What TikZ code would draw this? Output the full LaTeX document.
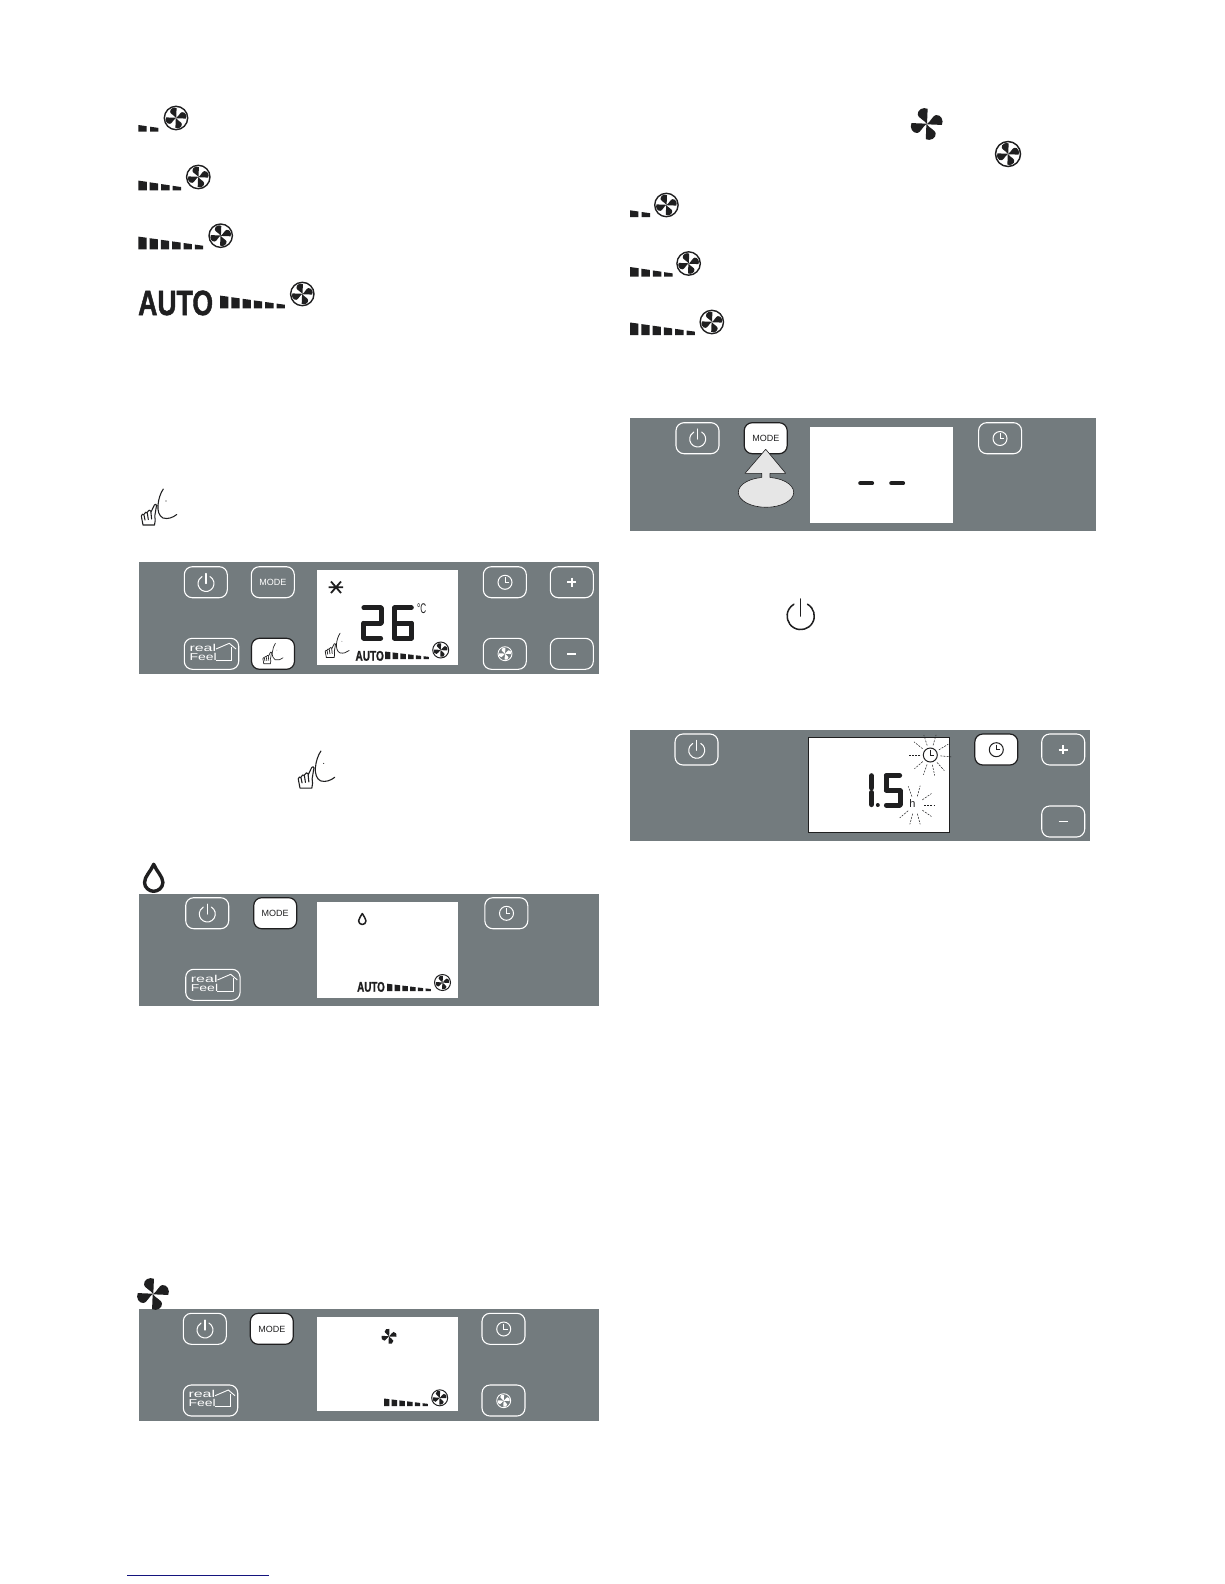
\documentclass[tikz,border=0pt]{standalone}
\usepackage{fontspec}
\setmainfont{Liberation Sans}
\usetikzlibrary{calc}
\definecolor{panelgray}{HTML}{737B7E}
\definecolor{ink}{HTML}{1F1F20}
\definecolor{pressgray}{HTML}{E6E6E6}
\definecolor{rule}{HTML}{14147E}
\tikzset{
  panelbox/.style={fill=panelgray,draw=none},
  lcdbox/.style={fill=white,draw=none},
  btnbox/.style={draw=white,line width=1.1pt,rounded corners=8pt},
  btnon/.style={draw=ink,fill=white,line width=1.2pt,rounded corners=8pt},
  segline/.style={draw=ink,line cap=round},
  ray/.style={draw=ink,line width=0.5pt,dash pattern=on 2pt off 1.2pt},
}
% bars: x, bottom y, count, first height, last height, pitch, width
\newcommand\fanbars[7]{%
  \foreach \i in {1,...,#3}{%
    \pgfmathsetmacro\xa{#1+(\i-1)*#6}%
    \pgfmathsetmacro\xb{\xa+#7}%
    \pgfmathsetmacro\slope{(#5-#4)/(#3-1)}%
    \pgfmathsetmacro\ya{#2-(#4+(\i-1)*\slope)}%
    \pgfmathsetmacro\yb{#2-(#4+(\i-1+0.7)*\slope)}%
    \fill[ink] (\xa,#2) -- (\xa,\ya) -- (\xb,\yb) -- (\xb,#2) -- cycle;}}
% blades: x, y, radius, colour
\newcommand\blades[4]{%
  \begin{scope}[shift={(#1,#2)},scale=#3]
  \foreach \a in {0,90,180,270}{%
    \fill[#4,rotate=\a] (0.02,0) -- (0.06,-0.98)
      .. controls (-0.22,-1.12) and (-0.62,-0.92) .. (-0.58,-0.6)
      .. controls (-0.55,-0.4) and (-0.22,-0.3) .. (0.02,0) -- cycle;}
  \end{scope}}
% round fan: x, y, radius, colour
\newcommand\roundfan[4]{%
  \draw[#4,line width={0.11*#3+0.1}] (#1,#2) circle[radius=#3];
  \blades{#1}{#2}{0.86*#3}{#4}}
\newcommand\powericon[4]{% x,y,r,colour
  \begin{scope}[shift={(#1,#2)}]
  \draw[#4,line width={0.3+0.09*#3},line cap=round] (60:#3 and -#3) arc[start angle=-60,end angle=240,radius=#3];
  \draw[#4,line width={0.3+0.09*#3},line cap=round] (0,0) -- (0,-1.25*#3);
  \end{scope}}
\newcommand\clockicon[4]{% x,y,r,colour
  \draw[#4,line width=1pt] (#1,#2) circle[radius=#3];
  \draw[#4,line width=0.9pt] ($(#1,#2)+(0,-0.72*#3)$) -- (#1,#2) -- ($(#1,#2)+(0.55*#3,0)$);}
\newcommand\btn[3][btnbox]{\draw[#1] (#2,#3) rectangle ++(43,31);}
\newcommand\modetext[3]{\node[text=#3,inner sep=0,font=\fontsize{9}{9}\selectfont] at (#1,#2) {MODE};}
\newcommand\realfeel[2]{%
  \begin{scope}[shift={(#1,#2)}]
  \draw[btnbox] (0,0) rectangle (54.4,31);
  \node[anchor=base west,inner sep=0,text=white,font=\fontsize{10}{10}\selectfont] at (5,12.7) {\scalebox{1.6}[1]{real}};
  \node[anchor=base west,inner sep=0,text=white,font=\fontsize{10}{10}\selectfont] at (5,21.9) {\scalebox{1.4}[1]{Feel}};
  \draw[white,line width=0.9pt] (31.7,10.7) -- (45,5) -- (51.7,10.7);
  \draw[white,line width=0.9pt] (47.3,9) -- (47.3,21.7) -- (31.7,21.7);
  \end{scope}}
\newcommand\autotext[5]{\node[anchor=base west,inner sep=0,text=#5,font=\fontsize{#3}{#3}\bfseries\selectfont\addfontfeature{FakeBold=1.6}] at (#1,#2) {\scalebox{#4}[1]{AUTO}};}
\newcommand\handicon[4]{% x,y,scale,colour
  \begin{scope}[shift={(#1,#2)},scale=#3]
  \draw[#4,line width={0.95*#3+0.1},line cap=round,line join=round]
    (33.3,14) .. controls (30.5,18) and (28.5,24) .. (28,30)
    .. controls (27.5,36) and (29,41) .. (33,43)
    .. controls (38,44.5) and (43,42.5) .. (46.7,39.5)
    (13,50) -- (11.3,41) .. controls (11.3,39) and (13.5,38.5) .. (14,40) -- (15,45)
    (14.2,39) .. controls (14.5,37) and (17,36.5) .. (17.3,38) -- (18.3,44.5)
    (17.5,37) .. controls (18,35) and (20.5,34.5) .. (20.8,36) -- (21.6,44)
    (21,37) -- (24.4,30) .. controls (25,28.8) and (26.8,29) .. (26.5,30.5)
    -- (24.8,41) .. controls (24.8,44) and (26,47) .. (24.5,50) -- (13,50);
  \fill[#4] (36,26) circle[radius=0.55];
  \end{scope}}
\newcommand\dropicon[4]{% x,y,s,line width
  \begin{scope}[shift={(#1,#2)},scale=#3]
  \draw[ink,line width=#4,line join=round] (0,-1) .. controls (0.2,-0.5) and (0.68,-0.1) .. (0.68,0.35)
   .. controls (0.68,0.75) and (0.3,1) .. (0,1) .. controls (-0.3,1) and (-0.68,0.75) .. (-0.68,0.35)
   .. controls (-0.68,-0.1) and (-0.2,-0.5) .. (0,-1) -- cycle;
  \end{scope}}
% seven segment digit: x,y (top left), w, h, t, segment list
\newcommand\segdigit[6]{%
  \coordinate (tl) at (#1,#2); \coordinate (tr) at ($(#1,#2)+(#3,0)$);
  \coordinate (ml) at ($(#1,#2)+(0,#4/2)$); \coordinate (mr) at ($(#1,#2)+(#3,#4/2)$);
  \coordinate (bl) at ($(#1,#2)+(0,#4)$); \coordinate (br) at ($(#1,#2)+(#3,#4)$);
  \foreach \p/\q in {#6}{\draw[segline,line width=#5,shorten <=0.4pt,shorten >=0.4pt] (\p) -- (\q);}}
\begin{document}
\begin{tikzpicture}[x=1pt,y=-1pt]
\useasboundingbox (0,0) rectangle (1224,1584);
\fill[white] (0,0) rectangle (1224,1584);

% ---------- left column icons
\fanbars{138.3}{131.7}{2}{6.7}{5}{11.7}{8.3}
\roundfan{176}{118}{11.7}{ink}
\fanbars{138.3}{190.3}{4}{9.7}{4.5}{11.4}{8.5}
\roundfan{198.3}{177}{11.7}{ink}
\fanbars{138.3}{249.3}{6}{12.7}{4.7}{11.3}{8.3}
\roundfan{220.7}{235.7}{11.7}{ink}
\autotext{138}{315}{35}{.76}{ink}
\fanbars{220}{308.3}{6}{12.7}{4.7}{11.3}{8.3}
\roundfan{302.3}{294}{11.7}{ink}
\handicon{130}{475}{1}{ink}

% ---------- panel A
\fill[panelbox] (139,562) rectangle (599,674);
\btn{184.3}{566.7} \powericon{206}{583.5}{8}{white}
\btn{251.3}{566.7} \modetext{272.8}{582.3}{white}
\realfeel{184.3}{638.3}
\btn[btnon]{251.5}{638.3} \handicon{256.4}{635.3}{0.57}{ink}
\btn{483.3}{566.7} \clockicon{505}{582.3}{7}{white}
\btn{550.3}{566.7}
\draw[white,line width=1.8pt] (567,582.3) -- (576.4,582.3) (571.7,577.6) -- (571.7,587);
\btn{483.3}{638.3} \roundfan{505}{653.7}{7}{white}
\btn{550.3}{638.3}
\draw[white,line width=1.8pt] (567,653.7) -- (576.4,653.7);
\fill[lcdbox] (317,570) rectangle (458,665);
\draw[ink,line width=1.8pt] (328.5,587.3) -- (343,587.3) (331,581.5) -- (341,593) (341,581.5) -- (331,593);
\segdigit{363.5}{607.8}{17.5}{30.5}{5}{tl/tr,tr/mr,mr/ml,ml/bl,bl/br}
\segdigit{394.2}{607.8}{17.5}{30.5}{5}{tr/tl,tl/ml,ml/mr,ml/bl,bl/br,mr/br}
\node (degc) [inner sep=0,text=ink,font=\fontsize{14}{14}\selectfont] at (421.7,608.3) {\scalebox{.58}[1]{°C}};
\handicon{317.6}{623.8}{0.675}{ink}
\autotext{355.3}{660.7}{14}{.72}{ink}
\fanbars{385}{659}{6}{7.5}{2.8}{7.7}{5.4}
\roundfan{440.7}{650}{8}{ink}

% ---------- middle hand
\handicon{286.6}{736.6}{1.03}{ink}

% ---------- panel B (dry)
\dropicon{153.7}{877.8}{13.5}{3.4pt}
\fill[panelbox] (139,894) rectangle (599,1006);
\btn{185.7}{897.7} \powericon{207.3}{914}{8}{white}
\btn[btnon]{253.7}{897.7} \modetext{275}{913.5}{ink}
\btn{484.8}{897.7} \clockicon{506.5}{913.3}{7}{white}
\realfeel{185.7}{969.3}
\fill[lcdbox] (317,902.3) rectangle (458.3,997.7);
\dropicon{362.3}{919}{5.5}{1.5pt}
\autotext{357}{991.7}{14}{.7}{ink}
\fanbars{387}{991.2}{6}{7.5}{2.8}{7.7}{5.4}
\roundfan{442.5}{982.5}{8}{ink}

% ---------- panel C (fan)
\fill[panelbox] (139,1309.3) rectangle (599,1420.5);
\blades{153}{1294}{15.5}{ink}
\btn{183.3}{1313.3} \powericon{205}{1330}{8}{white}
\btn[btnon]{250.3}{1313.3} \modetext{271.8}{1329}{ink}
\btn{482}{1313.3} \clockicon{503.7}{1329}{7}{white}
\realfeel{183.3}{1385}
\btn{482}{1385} \roundfan{503.7}{1400.7}{7}{white}
\fill[lcdbox] (317,1317) rectangle (458,1411);
\blades{389}{1336.3}{7.5}{ink}
\fanbars{384}{1406}{6}{7.5}{2.8}{7.7}{5.4}
\roundfan{439.7}{1397.8}{8}{ink}

% ---------- right column icons
\blades{926.7}{124}{15.5}{ink}
\roundfan{1008}{154}{12.5}{ink}
\fanbars{630}{217}{2}{6.7}{5}{11.7}{8.3}
\roundfan{666.4}{205}{11.7}{ink}
\fanbars{630}{276.7}{4}{9.7}{4.5}{11.4}{8.5}
\roundfan{688.6}{263.5}{11.7}{ink}
\fanbars{630}{335.2}{6}{12.7}{4.7}{11.3}{8.3}
\roundfan{711.8}{322}{11.7}{ink}

% ---------- panel D
\fill[panelbox] (630,418) rectangle (1095.5,530.7);
\btn{676}{422.7} \powericon{697.7}{439}{8}{white}
\btn[btnon]{744.2}{422.7} \modetext{765.8}{438.3}{ink}
\btn{978.6}{422.7} \clockicon{1000}{438.5}{7}{white}
\fill[lcdbox] (810,426.7) rectangle (953.3,522.7);
\draw[segline,line width=4.2pt] (860.3,483.3) -- (872,483.3) (891.3,483.3) -- (903,483.3);
\draw[ink,line width=0.6pt,fill=pressgray] (766,492.3) ellipse[x radius=27.7,y radius=15];
\fill[pressgray] (765.7,449.3) -- (785.7,473.3) -- (770,473.3) -- (770,480)
  -- (761.7,480) -- (761.7,473.3) -- (745,473.3) -- cycle;
\draw[ink,line width=0.6pt,line join=round]
  (770,477.6) -- (770,473.3) -- (785.7,473.3) -- (765.7,449.3) -- (745,473.3) -- (761.7,473.3) -- (761.7,477.6);

% ---------- lone power icon
\powericon{800.7}{616}{13.6}{ink}

% ---------- panel E
\fill[panelbox] (630,730) rectangle (1089.5,841);
\btn{675}{734} \powericon{696.7}{750.3}{8}{white}
\btn[btnon]{974.8}{734} \clockicon{996.3}{749.7}{7}{ink}
\btn{1041.7}{734}
\draw[white,line width=1.8pt] (1058.5,749.7) -- (1067.9,749.7) (1063.2,745) -- (1063.2,754.4);
\btn{1041.7}{806}
\draw[white,line width=1.8pt] (1058.5,821.5) -- (1067.9,821.5);
\draw[lcdbox,draw=ink,line width=0.8pt] (808.3,737.3) rectangle (949.3,832.7);
\clockicon{930.3}{755}{7}{ink}
\foreach \a in {108,74,31,-5,-48,-78,-109,-139,180,141}{\draw[ray] ($(930.3,755)+(\a:10 and -10)$) -- ($(930.3,755)+(\a:21 and -21)$);}
\segdigit{871.5}{775.3}{0}{13}{5}{tl/bl}
\segdigit{871.5}{792}{0}{13}{5}{tl/bl}
\fill[ink] (877.8,805) circle[radius=2];
\segdigit{886}{775.5}{14}{29.5}{5}{tr/tl,tl/ml,ml/mr,mr/br,br/bl}
\node (hlabel) [inner sep=0,text=ink,font=\fontsize{11}{11}\selectfont] at (912.3,803.5) {h};
\foreach \a in {110,75,35,0,-35,-75,-105,-140}{\draw[ray] ($(915,805)+(\a:9 and -9)$) -- ($(915,805)+(\a:20 and -20)$);}

% ---------- footnote rule
\draw[rule,line width=1pt] (127,1575.3) -- (269,1575.3);
\end{tikzpicture}
\end{document}
